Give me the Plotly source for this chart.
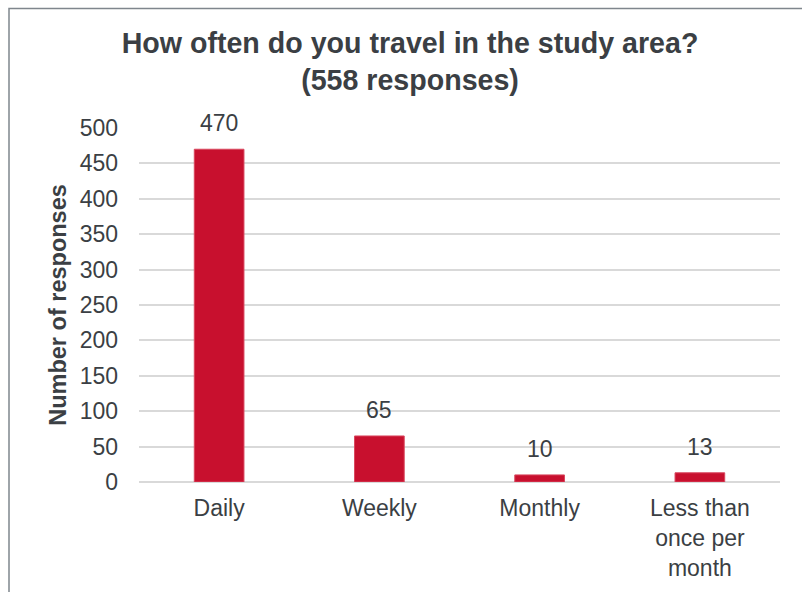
import plotly.graph_objects as go

categories = ["Daily", "Weekly", "Monthly", "Less than<br>once per<br>month"]
responses = [470, 65, 10, 13]
y_ticks = [0, 50, 100, 150, 200, 250, 300, 350, 400, 450, 500]

TEXT = "#3b3f44"
BAR = "#C8102E"
GRID = "#d9d9d9"
FONT = "Liberation Sans, Arial"

fig = go.Figure(
    go.Bar(
        x=categories,
        y=responses,
        marker=dict(color=BAR, line=dict(color="#d9475e", width=1)),
        width=0.31,
        hoverinfo="x+y",
    )
)

# value labels above each bar
for cat, val in zip(categories, responses):
    fig.add_annotation(
        x=cat, y=val, text=str(val), showarrow=False,
        xanchor="center", yanchor="bottom", yshift=11,
        font=dict(size=23, color=TEXT, family=FONT),
    )

fig.update_layout(
    width=802,
    height=592,
    paper_bgcolor="white",
    plot_bgcolor="white",
    margin=dict(l=139, r=22, t=128, b=110),
    font=dict(family=FONT, color=TEXT, size=23),
    showlegend=False,
    title=dict(
        text="<b>How often do you travel in the study area?<br>(558 responses)</b>",
        x=410 / 802,
        xanchor="center",
        y=1 - 53 / 592,
        yanchor="top",
        font=dict(size=28.6, color=TEXT, family=FONT),
    ),
    # outer frame of the chart card
    shapes=[
        dict(type="rect", xref="paper", yref="paper",
             x0=-130 / 641, x1=1.3, y0=-0.5, y1=473.5 / 354,
             line=dict(color="#7f868d", width=1.5), fillcolor="rgba(0,0,0,0)",
             layer="above"),
    ],
)

fig.update_xaxes(
    showgrid=False,
    showline=False,
    ticks="",
    tickfont=dict(size=23, color=TEXT),
    ticklabelstandoff=10,
)
fig.update_yaxes(
    range=[0, 500],
    tickvals=y_ticks,
    showgrid=True,
    gridcolor=GRID,
    gridwidth=1.5,
    zeroline=True,
    zerolinecolor=GRID,
    zerolinewidth=1.5,
    tickfont=dict(size=23, color=TEXT),
    ticklabelstandoff=20,
    title=dict(text="<b>Number of responses</b>", font=dict(size=23.5, color=TEXT), standoff=6),
)

fig.write_html("out.html", config={"displayModeBar": False})
